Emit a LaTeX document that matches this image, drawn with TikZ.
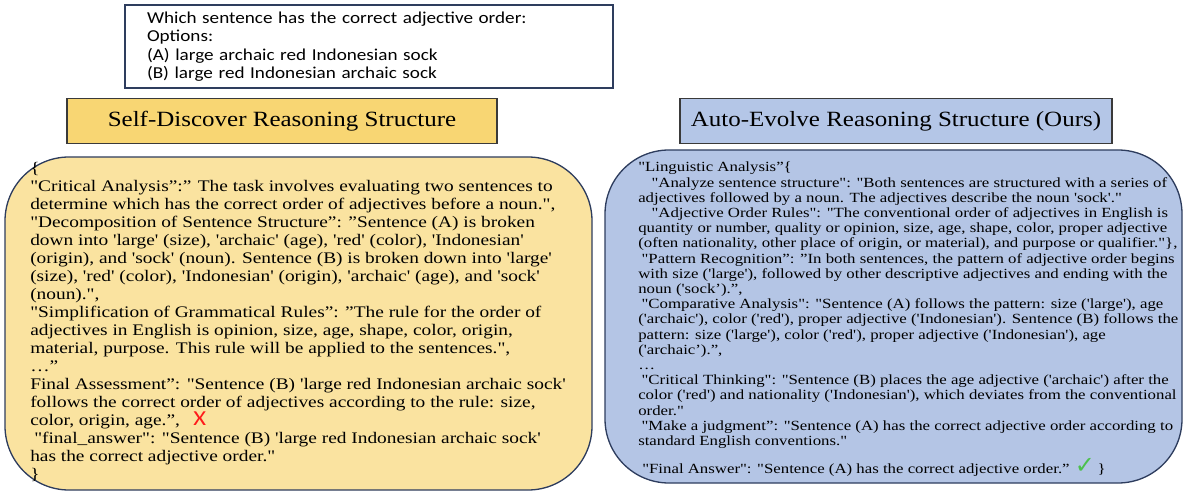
\documentclass[tikz,border=0pt]{standalone}
\usepackage{fontspec}
\newfontfamily\timesfont{Liberation Serif}[FakeStretch=1.2]
\newfontfamily\titlefont{Liberation Serif}[FakeStretch=1.15]
\newfontfamily\calibrifont{Carlito}[FakeStretch=1.15]
\newfontfamily\symbolfont{DejaVu Sans}

\definecolor{navyline}{HTML}{2E3D5E}
\definecolor{titleline}{HTML}{3A3A3A}
\definecolor{goldtitle}{HTML}{F8D673}
\definecolor{goldbox}{HTML}{FAE3A0}
\definecolor{bluetitle}{HTML}{B4C6E7}
\definecolor{bluebox}{HTML}{B4C5E5}
\definecolor{crossred}{HTML}{FF1A1A}
\definecolor{tickgreen}{HTML}{4CC04C}

\tikzset{
  questionbox/.style={draw=navyline, line width=1.1pt, align=left, inner ysep=0pt},
  titlebox/.style={draw=titleline, line width=0.9pt, minimum height=33.75pt, inner sep=0pt,
    font=\titlefont\fontsize{16.3}{19}\selectfont},
  answerbox/.style={draw=navyline, line width=1pt, rounded corners=48pt},
  bodytext/.style={anchor=north west, inner sep=0pt, align=left}
}

\begin{document}
\begin{tikzpicture}[x=0.75pt,y=-0.75pt]
\useasboundingbox (0,0) rectangle (1184,495);

% the question
\node[questionbox, text width=333pt, inner xsep=16.5pt, minimum height=62.25pt,
  font=\calibrifont\fontsize{12.5}{13.9}\selectfont] (question) at (369,46.5)
  {Which sentence has the correct adjective order:\\
   Options:\\
   (A) large archaic red Indonesian sock\\
   (B) large red Indonesian archaic sock};

% titles
\node[titlebox, fill=goldtitle, minimum width=322.5pt] (selftitle) at (282,121) {Self-Discover Reasoning Structure};
\node[titlebox, fill=bluetitle, minimum width=324pt] (autotitle) at (896,121) {Auto-Evolve Reasoning Structure (Ours)};

% answer boxes
\draw[answerbox, fill=goldbox] (5,157) rectangle (592,490);
\draw[answerbox, fill=bluebox] (605,150) rectangle (1182,483);

% self-discover structure
\node[bodytext, font=\timesfont\fontsize{12.1}{13.5}\selectfont] (selftext) at (30,162)
  {\{\\
   "Critical Analysis”:” The task involves evaluating two sentences to\\
   determine which has the correct order of adjectives before a noun.",\\
   "Decomposition of Sentence Structure”: ”Sentence (A) is broken\\
   down into 'large' (size), 'archaic' (age), 'red' (color), 'Indonesian'\\
   (origin), and 'sock' (noun). Sentence (B) is broken down into 'large'\\
   (size), 'red' (color), 'Indonesian' (origin), 'archaic' (age), and 'sock'\\
   (noun).",\\
   "Simplification of Grammatical Rules”: ”The rule for the order of\\
   adjectives in English is opinion, size, age, shape, color, origin,\\
   material, purpose. This rule will be applied to the sentences.",\\
   …”\\
   Final Assessment”: "Sentence (B) 'large red Indonesian archaic sock'\\
   follows the correct order of adjectives according to the rule: size,\\
   color, origin, age.”,\hspace{10pt}\smash{\color{crossred}\calibrifont\fontsize{16}{13.5}\selectfont X}\\
   \hspace*{3pt}"final\_answer": "Sentence (B) 'large red Indonesian archaic sock'\\
   has the correct adjective order."\\
   \}};

% auto-evolve structure
\node[bodytext, font=\timesfont\fontsize{10.5}{11.4}\selectfont] (autotext) at (638,162)
  {"Linguistic Analysis”\{\\
   \hspace*{10pt}"Analyze sentence structure": "Both sentences are structured with a series of\\
   adjectives followed by a noun. The adjectives describe the noun 'sock'."\\
   \hspace*{10pt}"Adjective Order Rules": "The conventional order of adjectives in English is\\
   quantity or number, quality or opinion, size, age, shape, color, proper adjective\\
   (often nationality, other place of origin, or material), and purpose or qualifier."\},\\
   \hspace*{2.5pt}"Pattern Recognition”: ”In both sentences, the pattern of adjective order begins\\
   with size ('large'), followed by other descriptive adjectives and ending with the\\
   noun ('sock’).”,\\
   \hspace*{2.5pt}"Comparative Analysis": "Sentence (A) follows the pattern: size ('large'), age\\
   ('archaic'), color ('red'), proper adjective ('Indonesian'). Sentence (B) follows the\\
   pattern: size ('large'), color ('red'), proper adjective ('Indonesian'), age\\
   ('archaic’).”,\\
   …\\
   \hspace*{2.5pt}"Critical Thinking": "Sentence (B) places the age adjective ('archaic') after the\\
   color ('red') and nationality ('Indonesian'), which deviates from the conventional\\
   order."\\
   \hspace*{2.5pt}"Make a judgment”: "Sentence (A) has the correct adjective order according to\\
   standard English conventions."\\[6pt]
   \hspace*{3pt}"Final Answer": "Sentence (A) has the correct adjective order.”\hspace{4pt}{\color{tickgreen}\symbolfont\fontsize{18}{11.4}\selectfont ✓}\hspace{2pt}\}};
\end{tikzpicture}
\end{document}
